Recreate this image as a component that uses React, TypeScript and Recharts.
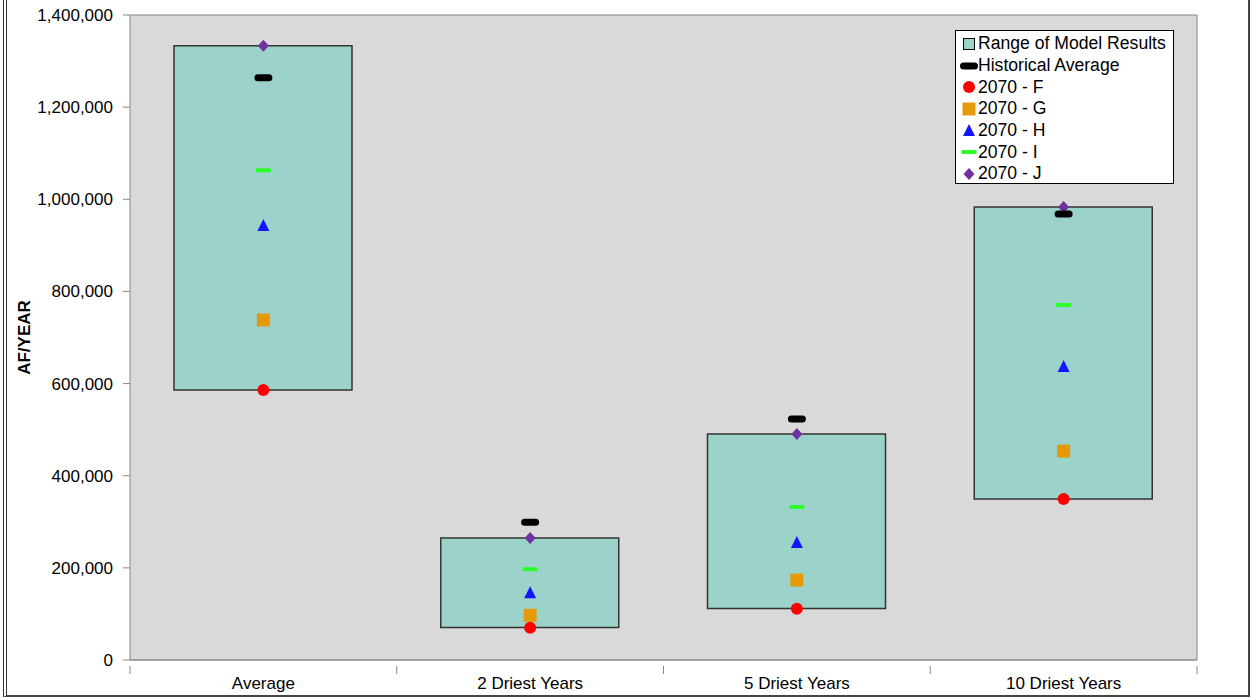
import { ComposedChart, Bar, Line, XAxis, YAxis, CartesianGrid } from 'recharts';

const categories = ['Average', '2 Driest Years', '5 Driest Years', '10 Driest Years'];
const rangeLow = [586000, 70500, 112000, 349500];
const rangeHigh = [1333000, 265000, 490500, 983000];
const historical = [1264000, 299000, 523000, 968000];
const f2070 = [586000, 70000, 111000, 349500];
const g2070 = [738000, 97000, 173500, 453500];
const h2070 = [942000, 145000, 254000, 636000];
const i2070 = [1063000, 197000, 332000, 770500];
const j2070 = [1333000, 265000, 490500, 983000];
const yTicks = [0, 200000, 400000, 600000, 800000, 1000000, 1200000, 1400000];

const legendItems = ['Range of Model Results', 'Historical Average', '2070 - F', '2070 - G', '2070 - H', '2070 - I', '2070 - J'];

const W = 1254;
const H = 698;
const FONT = '"Liberation Sans", Arial, sans-serif';
const TEAL = '#9BD3CA';
const RED = '#FF0000';
const ORANGE = '#E69A0A';
const BLUE = '#1414FF';
const GREEN = '#2BFF2B';
const PURPLE = '#7030A0';
const AXIS = '#888888';

const margin = { top: 15, right: 0, bottom: 0, left: 0 };
const yAxisWidth = 130;
const rightAxisWidth = 57;
const band = (W - yAxisWidth - rightAxisWidth) / categories.length;

const data = categories.map((name, i) => ({
    name,
    base: rangeLow[i],
    range: rangeHigh[i] - rangeLow[i],
    hist: historical[i],
    f: f2070[i],
    g: g2070[i],
    h: h2070[i],
    i: i2070[i],
    j: j2070[i],
}));

// marker shapes, centred on (cx, cy)
const shapes: Record<string, (cx: number, cy: number) => JSX.Element> = {
    hist: (cx, cy) => <rect x={cx - 9} y={cy - 3.5} width={18} height={7} rx={3.5} fill="#000" />,
    f: (cx, cy) => <circle cx={cx} cy={cy} r={6} fill={RED} />,
    g: (cx, cy) => <rect x={cx - 6.5} y={cy - 6.5} width={13} height={13} fill={ORANGE} />,
    h: (cx, cy) => <polygon points={`${cx},${cy - 7} ${cx + 6},${cy + 5} ${cx - 6},${cy + 5}`} fill={BLUE} />,
    i: (cx, cy) => <rect x={cx - 7.5} y={cy - 2} width={15} height={4} fill={GREEN} />,
    j: (cx, cy) => <polygon points={`${cx},${cy - 6} ${cx + 5.5},${cy} ${cx},${cy + 6} ${cx - 5.5},${cy}`} fill={PURPLE} />,
};

const markerDot = (key: string) => (props: any) => {
    const { cx, cy, index } = props;
    if (cx == null || cy == null) return <g key={`${key}-${index}`} />;
    return <g key={`${key}-${index}`}>{shapes[key](cx, cy)}</g>;
};

const XTick = (props: any) => {
    const { x, y, payload, index } = props;
    const left = x - band / 2;
    const right = x + band / 2;
    return (
        <g>
            <line x1={left} y1={y - 2} x2={left} y2={y + 6} stroke={AXIS} />
            {index === categories.length - 1 && <line x1={right} y1={y - 2} x2={right} y2={y + 6} stroke={AXIS} />}
            <text x={x} y={y + 21} textAnchor="middle" fontSize={17} fontFamily={FONT} fill="#000">
                {payload.value}
            </text>
        </g>
    );
};

const legendIcon = (i: number) => {
    const s = 14;
    const c = s / 2;
    let el: JSX.Element;
    if (i === 0) el = <rect x={1.5} y={1.5} width={11} height={11} fill={TEAL} stroke="#000" />;
    else if (i === 1) el = <rect x={-2} y={c - 3.5} width={18} height={7} rx={3.5} fill="#000" />;
    else el = shapes[['f', 'g', 'h', 'i', 'j'][i - 2]](c, c);
    return (
        <svg width={s} height={s} style={{ overflow: 'visible', marginRight: 2 }}>
            {el}
        </svg>
    );
};

export default function App() {
    return (
        <div style={{ position: 'relative', width: W, height: H, background: '#fff', fontFamily: FONT }}>
            <style>{'body{margin:0}'}</style>
            <ComposedChart width={W} height={H} data={data} margin={margin} barCategoryGap={0}>
                <CartesianGrid horizontal vertical={false} stroke={AXIS} fill="#D9D9D9" fillOpacity={1} />
                <XAxis
                    dataKey="name"
                    height={38}
                    stroke={AXIS}
                    tickLine={false}
                    tick={<XTick />}
                    interval={0}
                />
                <YAxis
                    yAxisId="left"
                    width={yAxisWidth}
                    domain={[0, 1400000]}
                    ticks={yTicks}
                    interval={0}
                    stroke={AXIS}
                    tickSize={7}
                    tickMargin={10}
                    tick={{ fontSize: 17, fontFamily: FONT, fill: '#000' }}
                    tickFormatter={(v: number) => v.toLocaleString('en-US')}
                    label={{
                        value: 'AF/YEAR',
                        angle: -90,
                        position: 'insideLeft',
                        offset: 24,
                        style: { fontSize: 17, fontWeight: 'bold', fontFamily: FONT, fill: '#000', textAnchor: 'middle' },
                    }}
                />
                <YAxis yAxisId="right" orientation="right" width={rightAxisWidth} stroke={AXIS} tick={false} tickLine={false} domain={[0, 1400000]} />
                <Bar yAxisId="left" dataKey="base" stackId="r" fill="transparent" barSize={178} isAnimationActive={false} legendType="none" />
                <Bar yAxisId="left" dataKey="range" stackId="r" fill={TEAL} stroke="#333" strokeWidth={1.5} barSize={178} isAnimationActive={false} />
                {['g', 'h', 'i', 'j', 'hist', 'f'].map((k) => (
                    <Line
                        key={k}
                        yAxisId="left"
                        dataKey={k}
                        stroke="none"
                        dot={markerDot(k)}
                        activeDot={false}
                        isAnimationActive={false}
                    />
                ))}
            </ComposedChart>
            <div
                style={{
                    position: 'absolute',
                    left: 955,
                    top: 30,
                    width: 219,
                    height: 154,
                    border: '1px solid #000',
                    background: '#fff',
                    padding: '2px 0 0 6px',
                    boxSizing: 'border-box',
                }}
            >
                {legendItems.map((label, i) => (
                    <div key={label} style={{ display: 'flex', alignItems: 'center', height: 21.7, fontSize: 17.6, whiteSpace: 'nowrap' }}>
                        {legendIcon(i)}
                        <span>{label}</span>
                    </div>
                ))}
            </div>
            <div
                style={{
                    position: 'absolute',
                    left: 3,
                    top: -4,
                    width: 1250 - 3,
                    height: 698 + 4 - 1,
                    borderLeft: '4px double #333',
                    borderRight: '2px solid #444',
                    borderBottom: '2px solid #444',
                    boxSizing: 'border-box',
                    pointerEvents: 'none',
                }}
            />
        </div>
    );
}
